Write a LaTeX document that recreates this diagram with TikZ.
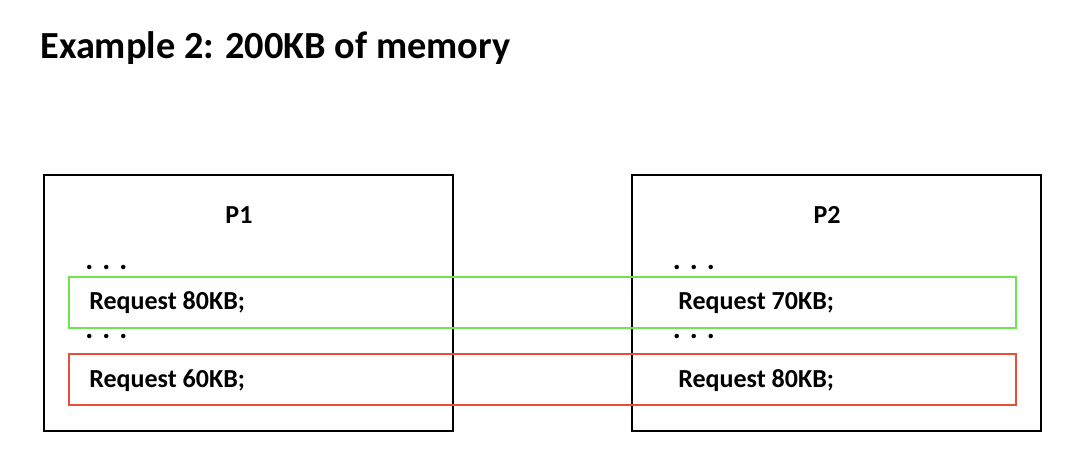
\documentclass[tikz,border=0pt]{standalone}
\usepackage{fontspec}
\setmainfont{Carlito}
\usepackage{xcolor}
\usepackage{tikz}
\usetikzlibrary{positioning}
\definecolor{grantgreen}{RGB}{110,228,80}
\definecolor{waitred}{RGB}{232,78,56}
\tikzset{
  mem/.style={every node/.style={font=\fontsize{14.8}{17}\selectfont\bfseries, inner sep=0pt}},
  procbox/.style={draw=black, line width=1.1pt, minimum width=8.18cm, minimum height=5.12cm},
  reqband/.style={draw, line width=0.8pt, minimum width=18.94cm, minimum height=1.02cm},
  req/.style={anchor=base west},
  gap/.style={anchor=base west, font=\fontsize{17}{17}\selectfont\bfseries},
  ttl/.style={anchor=base west, font=\fontsize{21.8}{26}\selectfont\bfseries}
}
\newcommand{\onedot}{\makebox[0.34cm]{.}}
\newcommand{\threedots}{\onedot\onedot\onedot}

\begin{document}
\begin{tikzpicture}[mem]
\useasboundingbox (0,0) rectangle (21.4,9.32);
\node[ttl] (title) at (0.80,8.14) {Example 2: 200KB of memory};
\node[procbox] (p1) at (4.97,3.26) {}; \node[procbox] (p2) at (16.73,3.26) {};
\node (p1name) at (4.78,5.02) {P1}; \node (p2name) at (16.54,5.02) {P2};
\node[reqband, grantgreen] (ok) at (10.85,3.27) {}; \node[reqband, waitred] (bad) at (10.85,1.73) {};
\node[gap] (d1) at (1.61,3.94) {\threedots}; \node[gap] (d2) at (1.61,2.56) {\threedots};
\node[gap] (d3) at (13.36,3.94) {\threedots}; \node[gap] (d4) at (13.36,2.56) {\threedots};
\node[req] (r1) at (1.78,3.14) {Request 80KB;}; \node[req] (r2) at (1.78,1.57) {Request 60KB;};
\node[req] (r3) at (13.56,3.14) {Request 70KB;}; \node[req] (r4) at (13.56,1.57) {Request 80KB;};
\end{tikzpicture}
\end{document}
